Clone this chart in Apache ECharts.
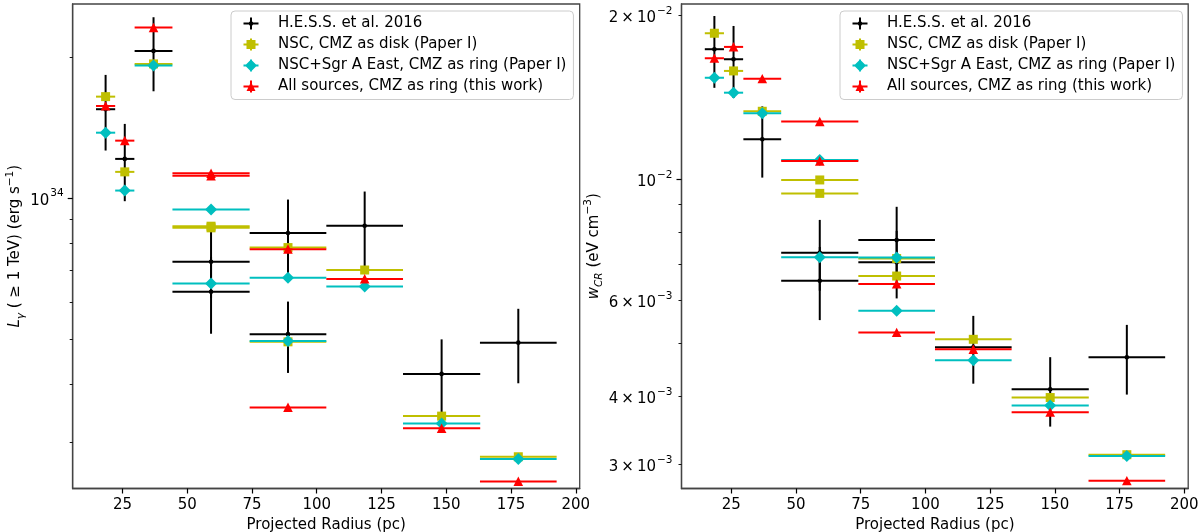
<!DOCTYPE html>
<html>
<head>
<meta charset="utf-8">
<script src="https://cdn.jsdelivr.net/npm/echarts@6/dist/echarts.min.js"></script>
<style>
html,body{margin:0;padding:0;background:#ffffff;}
#chart{width:1200px;height:532px;}
</style>
</head>
<body>
<div id="chart"></div>
<script>
// ---------------- data ----------------
const seriesNames = [
  'H.E.S.S. et al. 2016',
  'NSC, CMZ as disk (Paper I)',
  'NSC+Sgr A East, CMZ as ring (Paper I)',
  'All sources, CMZ as ring (this work)'
];
// projected radius bin centres and half widths (pc)
const radiusCenter = [18.5, 25.9, 37.0, 59.2, 59.2, 88.9, 88.9, 118.5, 148.2, 177.8];
const radiusHalfWidth = [3.7, 3.7, 7.3, 14.9, 14.9, 14.8, 14.8, 14.8, 14.9, 14.8];

// Left panel: L_gamma (>= 1 TeV) in erg/s
const hessL      = [1.549e34, 1.213e34, 2.064e34, 7.31e33, 6.31e33, 8.42e33, 5.12e33, 8.73e33, 4.21e33, 4.91e33];
const hessLErr   = [2.85e33, 2.28e33, 3.72e33, 1.20e33, 1.18e33, 1.51e33, 0.89e33, 1.60e33, 0.78e33, 0.89e33];
const nscDiskL   = [1.648e34, 1.138e34, 1.936e34, 8.71e33, 8.64e33, 7.84e33, 4.93e33, 7.02e33, 3.42e33, 2.80e33];
const nscRingL   = [1.380e34, 1.038e34, 1.920e34, 9.45e33, 6.57e33, 6.76e33, 4.95e33, 6.47e33, 3.30e33, 2.77e33];
const allRingL   = [1.574e34, 1.327e34, 2.315e34, 1.130e34, 1.116e34, 7.78e33, 3.57e33, 6.72e33, 3.22e33, 2.48e33];

// Right panel: w_CR in eV cm^-3
const hessW      = [1.734e-2, 1.662e-2, 1.185e-2, 7.34e-3, 6.52e-3, 7.74e-3, 7.05e-3, 4.92e-3, 4.12e-3, 4.72e-3];
const hessWErr   = [2.61e-3, 2.51e-3, 1.77e-3, 1.09e-3, 1.00e-3, 1.17e-3, 1.00e-3, 0.70e-3, 0.60e-3, 0.69e-3];
const nscDiskW   = [1.855e-2, 1.582e-2, 1.334e-2, 9.98e-3, 9.43e-3, 7.16e-3, 6.65e-3, 5.09e-3, 3.98e-3, 3.126e-3];
const nscRingW   = [1.537e-2, 1.443e-2, 1.323e-2, 1.086e-2, 7.20e-3, 7.19e-3, 5.74e-3, 4.66e-3, 3.85e-3, 3.11e-3];
const allRingW   = [1.669e-2, 1.751e-2, 1.531e-2, 1.277e-2, 1.081e-2, 6.43e-3, 5.24e-3, 4.88e-3, 3.74e-3, 2.80e-3];

// axis ticks
const xTickValues = [25, 50, 75, 100, 125, 150, 175, 200];
const leftMajorTicks = [1e34];
const leftMinorTicks = [3e33, 4e33, 5e33, 6e33, 7e33, 8e33, 9e33, 2e34];
const leftLabelTicks = [1e34];
const rightMajorTicks = [1e-2];
const rightMinorTicks = [3e-3, 4e-3, 5e-3, 6e-3, 7e-3, 8e-3, 9e-3, 2e-2];
const rightLabelTicks = [3e-3, 4e-3, 6e-3, 1e-2, 2e-2];

// ---------------- styling ----------------
const FONT = 'DejaVu Sans';
const FS = 15;
const colors = ['#000000', '#bfbf00', '#00bfbf', '#ff0000'];
const markers = ['dot', 'square', 'diamond', 'triangle'];
const legendIcons = [
  'M0 5H15V7H0Z M6.5 0H8.5V12H6.5Z M9.8 6A2.3 2.3 0 1 1 5.2 6A2.3 2.3 0 1 1 9.8 6Z',
  'M0 5H15V7H0Z M6.5 0H8.5V12H6.5Z M3 1.5H12V10.5H3Z',
  'M0 5H15V7H0Z M6.5 0H8.5V12H6.5Z M7.5 0L13.5 6L7.5 12L1.5 6Z',
  'M0 5H15V7H0Z M6.5 0H8.5V12H6.5Z M7.5 1.5L12 10.5L3 10.5Z'
];

function markerShape(kind, c, color) {
  const x = c[0], y = c[1];
  const st = { fill: color, stroke: null };
  if (kind === 'dot') return { type: 'circle', shape: { cx: x, cy: y, r: 2.3 }, style: st };
  if (kind === 'square') return { type: 'rect', shape: { x: x - 4.5, y: y - 4.5, width: 9, height: 9 }, style: st };
  if (kind === 'diamond') return { type: 'polygon', shape: { points: [[x, y - 6], [x + 6, y], [x, y + 6], [x - 6, y]] }, style: st };
  return { type: 'polygon', shape: { points: [[x, y - 4.8], [x + 4.8, y + 4.6], [x - 4.8, y + 4.6]] }, style: st };
}

function makeRender(idx) {
  const color = colors[idx], kind = markers[idx];
  return function (params, api) {
    const x = api.value(0), y = api.value(1), xh = api.value(2), ye = api.value(3);
    const c = api.coord([x, y]);
    const l = api.coord([x - xh, y]);
    const r = api.coord([x + xh, y]);
    const ls = { stroke: color, lineWidth: 2, fill: null };
    const children = [
      { type: 'line', shape: { x1: l[0], y1: l[1], x2: r[0], y2: r[1] }, style: ls }
    ];
    if (ye > 0) {
      const t = api.coord([x, y + ye]);
      const b = api.coord([x, y - ye]);
      children.push({ type: 'line', shape: { x1: t[0], y1: t[1], x2: b[0], y2: b[1] }, style: ls });
    }
    children.push(markerShape(kind, c, color));
    return { type: 'group', children: children };
  };
}

function buildData(values, errs) {
  return values.map(function (v, i) {
    return [radiusCenter[i], v, radiusHalfWidth[i], errs ? errs[i] : 0];
  });
}

const leftSets = [[hessL, hessLErr], [nscDiskL, null], [nscRingL, null], [allRingL, null]];
const rightSets = [[hessW, hessWErr], [nscDiskW, null], [nscRingW, null], [allRingW, null]];

const series = [];
[leftSets, rightSets].forEach(function (sets, g) {
  sets.forEach(function (s, i) {
    series.push({
      type: 'custom',
      name: seriesNames[i],
      xAxisIndex: g,
      yAxisIndex: g * 2,
      coordinateSystem: 'cartesian2d',
      encode: { x: 0, y: 1 },
      itemStyle: { color: colors[i] },
      renderItem: makeRender(i),
      data: buildData(s[0], s[1]),
      z: 2 + i
    });
  });
});

function sciLabel(v) {
  const e = Math.floor(Math.log10(v) + 1e-9);
  const m = Math.round(v / Math.pow(10, e));
  const exp = (e < 0 ? '\u2212' : '') + Math.abs(e);
  return (m === 1 ? '{b|10}' : '{b|' + m + '\u2009\u00d7\u200910}') + '{s|' + exp + '}';
}

const textCol = '#000000';
const spine = { color: '#444444', width: 1.3 };
const labelRich = {
  b: { fontFamily: FONT, fontSize: FS, color: textCol, lineHeight: 20, verticalAlign: 'bottom' },
  s: { fontFamily: FONT, fontSize: 10.5, color: textCol, lineHeight: 20, verticalAlign: 'top', padding: [0, 0, 0, 1] }
};
const nameRich = {
  n: { fontFamily: FONT, fontSize: FS, color: textCol, lineHeight: 22, verticalAlign: 'middle' },
  i: { fontFamily: FONT, fontSize: FS, fontStyle: 'italic', color: textCol, lineHeight: 22, verticalAlign: 'middle' },
  sub: { fontFamily: FONT, fontSize: 10.5, fontStyle: 'italic', color: textCol, lineHeight: 22, verticalAlign: 'bottom' },
  sup: { fontFamily: FONT, fontSize: 10.5, color: textCol, lineHeight: 22, verticalAlign: 'top' }
};

function xAxisCfg(g) {
  return {
    gridIndex: g, type: 'value', min: 5.8, max: 201.5,
    name: 'Projected Radius (pc)', nameLocation: 'middle', nameGap: 26,
    nameTextStyle: { fontFamily: FONT, fontSize: FS, color: textCol },
    axisLine: { show: true, lineStyle: spine },
    axisTick: { show: true, length: 5, customValues: xTickValues, lineStyle: { color: '#000', width: 1.2 } },
    axisLabel: { show: true, customValues: xTickValues, margin: 9, fontFamily: FONT, fontSize: FS, color: textCol },
    splitLine: { show: false }, minorTick: { show: false }
  };
}

function yMainCfg(g, min, max, major, labels, name, gap) {
  return {
    gridIndex: g, type: 'log', logBase: 10, min: min, max: max, position: 'left',
    name: name, nameLocation: 'middle', nameGap: gap, nameRotate: 90,
    nameTextStyle: { rich: nameRich },
    axisLine: { show: true, lineStyle: spine },
    axisTick: { show: true, length: 5, customValues: major, lineStyle: { color: '#000', width: 1.2 } },
    axisLabel: { show: true, customValues: labels, margin: 9, formatter: sciLabel, rich: labelRich },
    splitLine: { show: false }, minorTick: { show: false }
  };
}
function yMinorCfg(g, min, max, minor) {
  return {
    gridIndex: g, type: 'log', logBase: 10, min: min, max: max, position: 'left', offset: 0,
    axisLine: { show: false },
    axisTick: { show: true, length: 3, customValues: minor, lineStyle: { color: '#000', width: 0.9 } },
    axisLabel: { show: false },
    splitLine: { show: false }, minorTick: { show: false }
  };
}

function legendCfg(left) {
  return {
    orient: 'vertical', left: left, top: 11,
    data: seriesNames.map(function (n, i) { return { name: n, icon: 'path://' + legendIcons[i] }; }),
    itemWidth: 15, itemHeight: 12, itemGap: 5,
    padding: [4.5, 7, 5, 12.5],
    backgroundColor: 'rgba(255,255,255,0.8)', borderColor: '#cccccc', borderWidth: 1, borderRadius: 4,
    selectedMode: false,
    textStyle: { fontFamily: FONT, fontSize: FS, color: textCol, lineHeight: 16, padding: [0, 0, 0, 14.5] }
  };
}

const gridBase = { top: 4, height: 484.5, show: true, borderColor: '#444444', borderWidth: 1.3,
  backgroundColor: 'transparent', containLabel: false, outerBoundsMode: 'none' };

const option = {
  animation: false,
  backgroundColor: '#ffffff',
  grid: [
    Object.assign({ left: 72.7, width: 507 }, gridBase),
    Object.assign({ left: 681.5, width: 506.7 }, gridBase)
  ],
  xAxis: [xAxisCfg(0), xAxisCfg(1)],
  yAxis: [
    yMainCfg(0, 2.395e33, 2.60e34, leftMajorTicks, leftLabelTicks,
      '{i|L}{sub|\u03b3}{n| ( \u2265 1 TeV) (erg s}{sup|\u22121}{n|)}', 44),
    yMinorCfg(0, 2.395e33, 2.60e34, leftMinorTicks),
    yMainCfg(1, 2.710e-3, 2.099e-2, rightMajorTicks, rightLabelTicks,
      '{i|w}{sub|CR}{n| (eV cm}{sup|\u22123}{n|)}', 74),
    yMinorCfg(1, 2.710e-3, 2.099e-2, rightMinorTicks)
  ],
  legend: [legendCfg(231), legendCfg(840)],
  series: series
};

const chart = echarts.init(document.getElementById('chart'), null, { renderer: 'canvas' });
chart.setOption(option);
</script>
</body>
</html>
